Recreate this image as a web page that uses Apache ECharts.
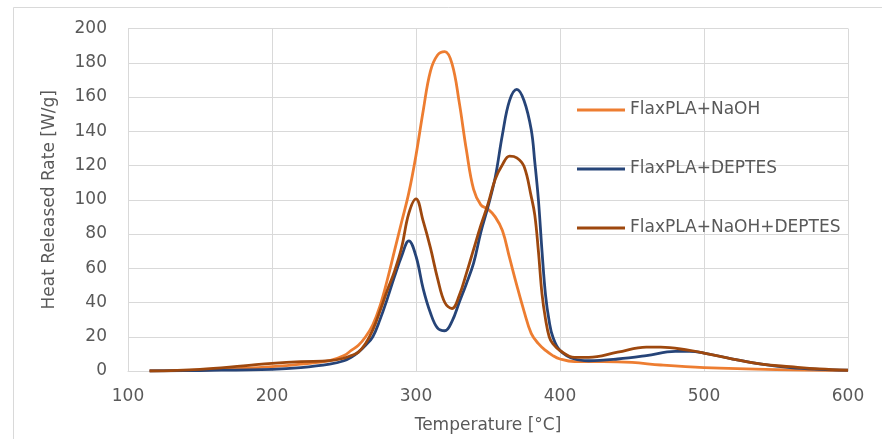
<!DOCTYPE html>
<html>
<head>
<meta charset="utf-8">
<script src="https://cdn.jsdelivr.net/npm/echarts@6/dist/echarts.min.js"></script>
<style>html,body{margin:0;padding:0;background:#fff;}#c{width:882px;height:439px;}</style>
</head>
<body>
<div id="c"></div>
<script>
// Temperature [°C] / Heat released rate [W/g]
var tNaOH = [115,150,180,200,220,240,250,255,260,265,270,275,280,285,290,295,300,305,310,315,320,325,330,335,340,345,350,355,360,365,370,375,380,385,390,395,400,410,430,450,470,500,550,600];
var vNaOH = [0,0.5,1.5,2.5,4,6,9,12,15,20,27,38,53,70,87,104,126,152,175,184.5,186.5,179.5,157,129,106,97,94.5,90,82,66,50,35,22,16,12,9,7,5.5,5.5,5,3.5,2,0.8,0.3];

var tDEPTES = [115,150,200,220,240,250,255,260,265,270,275,280,285,290,295,300,305,310,315,320,325,330,335,340,345,350,355,360,365,370,375,380,382.5,385,387.5,390,392.5,395,400,410,420,440,460,480,490,500,520,540,560,580,600];
var vDEPTES = [0,0.3,1,2,4,6,8,11,15,20,30,42,55,67,76,67,48,34,25,23.5,29,40,51,63,81,96,113,138,158,164.5,158,141,122,100,70,44,29,20,12,7,6,7,9,11.5,11.5,10.5,7,4,2,1,0.5];

var tBoth = [115,150,180,200,220,240,250,255,260,265,270,275,280,285,290,295,300,305,310,315,320,325,330,335,340,345,350,355,360,365,370,375,380,382.5,385,387.5,390,392.5,395,400,410,420,440,460,470,490,500,520,540,560,580,600];
var vBoth = [0,1,3,4.5,5.5,6,7.5,9,11,16,24,35,47,58,72,92,100.5,87.5,72,54,40,36.5,44,57,71,85,97.5,112,120.5,125.5,124.5,119.5,102,91,70,45,30,20,16,12,8,8,11,14,14,12,10.5,7,4,2.5,1.2,0.5];

var seriesNames = ['FlaxPLA+NaOH','FlaxPLA+DEPTES','FlaxPLA+NaOH+DEPTES'];
var xTicks = {min:100, max:600, interval:100};
var yTicks = {min:0, max:200, interval:20};

function pairs(t, v){ return t.map(function(x,i){ return [x, v[i]]; }); }

var txt = '#595959';
var font = 'DejaVu Sans';
var chart = echarts.init(document.getElementById('c'));
chart.setOption({
  animation:false,
  backgroundColor:'#fff',
  textStyle:{fontFamily:font},
  graphic:[{type:'rect', shape:{x:13.5,y:7.5,width:900,height:500}, style:{fill:'none', stroke:'#d9d9d9', lineWidth:1}, silent:true}],
  grid:{left:128, right:34, top:28.5, bottom:67.5, containLabel:false},
  legend:{
    orient:'vertical', left:577, top:100, padding:0, itemWidth:48, itemHeight:3, icon:'rect', itemGap:39,
    textStyle:{color:txt, fontSize:17, fontFamily:font, lineHeight:20},
    data:seriesNames
  },
  xAxis:{
    type:'value', min:xTicks.min, max:xTicks.max, interval:xTicks.interval,
    name:'Temperature [°C]', nameLocation:'middle', nameGap:46,
    nameTextStyle:{color:txt, fontSize:17, fontFamily:font},
    axisLine:{show:true, lineStyle:{color:'#d9d9d9', width:1}},
    axisTick:{show:false},
    axisLabel:{color:txt, fontSize:17, fontFamily:font, margin:17},
    splitLine:{show:true, lineStyle:{color:'#d9d9d9', width:1}}
  },
  yAxis:{
    type:'value', min:yTicks.min, max:yTicks.max, interval:yTicks.interval,
    name:'Heat Released Rate [W/g]', nameLocation:'middle', nameGap:70,
    nameTextStyle:{color:txt, fontSize:17, fontFamily:font},
    axisLine:{show:false},
    axisTick:{show:false},
    axisLabel:{color:txt, fontSize:17, fontFamily:font, margin:21},
    splitLine:{show:true, lineStyle:{color:'#d9d9d9', width:1}}
  },
  series:[
    {name:seriesNames[0], type:'line', data:pairs(tNaOH,vNaOH), smooth:0.4, showSymbol:false, symbol:'none', lineStyle:{color:'#ED7D31', width:2.8}, itemStyle:{color:'#ED7D31'}, z:3},
    {name:seriesNames[1], type:'line', data:pairs(tDEPTES,vDEPTES), smooth:0.4, showSymbol:false, symbol:'none', lineStyle:{color:'#264478', width:2.8}, itemStyle:{color:'#264478'}, z:4},
    {name:seriesNames[2], type:'line', data:pairs(tBoth,vBoth), smooth:0.4, showSymbol:false, symbol:'none', lineStyle:{color:'#9E480E', width:2.8}, itemStyle:{color:'#9E480E'}, z:5}
  ]
});
</script>
</body>
</html>
